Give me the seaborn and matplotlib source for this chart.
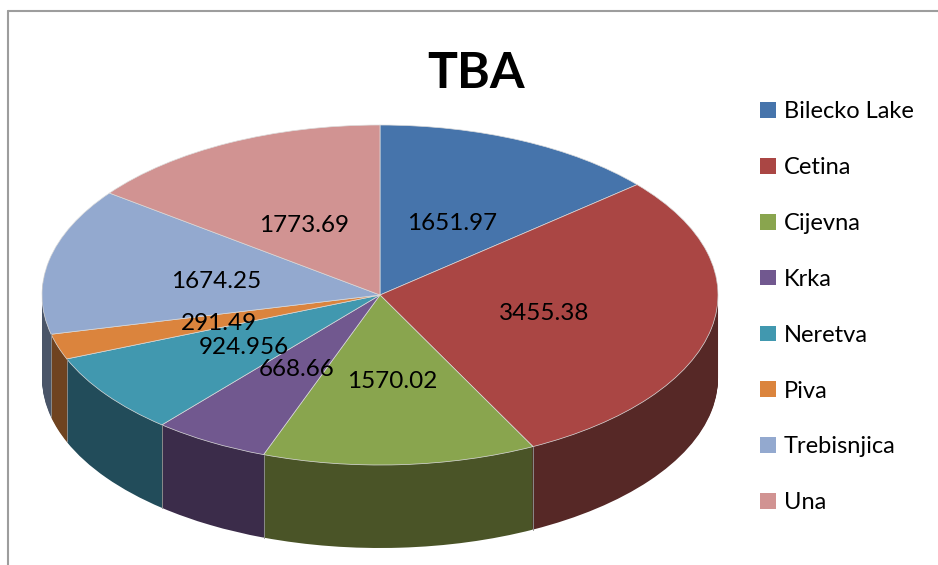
# TBA pie chart, tilted look with a side wall

import numpy as np
import seaborn as sns
import matplotlib.pyplot as plt
from matplotlib.patches import Patch

rivers = ["Bilecko Lake", "Cetina", "Cijevna", "Krka", "Neretva", "Piva", "Trebisnjica", "Una"]
tba = [1651.97, 3455.38, 1570.02, 668.66, 924.956, 291.49, 1674.25, 1773.69]
value_labels = ["1651.97", "3455.38", "1570.02", "668.66", "924.956", "291.49", "1674.25", "1773.69"]
top_colors = ["#4674AB", "#AA4644", "#89A54E", "#71588F", "#4198AF", "#DB843D", "#93A9CF", "#D19392"]
wall_colors = ["#2A4566", "#562826", "#4A5427", "#3B2C4A", "#224C5A", "#6F4320", "#4A5568", "#6A4A4A"]

# label centres in figure pixels
label_px = [(452, 223), (544, 314), (392, 382), (297, 370), (244, 348), (219, 324), (216, 281), (304, 225)]

W, H = 938, 565
DEPTH = 83 / 170  # wall height in pie radius units

sns.set_theme(style="white")
plt.rcParams["font.family"] = ["Lato", "DejaVu Sans"]

fig = plt.figure(figsize=(W / 100, H / 100), dpi=100)
ax = fig.add_axes([42 / W, (H - 548) / H, 676 / W, 423 / H])

# side wall: stack of dark pies going up to the top face
for off in np.linspace(DEPTH, 0.005, 84):
    ax.pie(tba, colors=wall_colors, startangle=90, counterclock=False,
           center=(0, -off), radius=1, frame=True,
           wedgeprops={"linewidth": 0.6, "edgecolor": "none"})

# thin separators on the front of the wall
angles = np.radians(90 - 360 * np.cumsum(tba) / np.sum(tba))
for a in angles:
    if np.sin(a) < 0:
        ax.plot([np.cos(a)] * 2, [np.sin(a), np.sin(a) - DEPTH], color="#8a8a8a", lw=0.7)

# top face
ax.pie(tba, colors=top_colors, startangle=90, counterclock=False, radius=1, frame=True,
       wedgeprops={"linewidth": 0.5, "edgecolor": "#dddddd"})

ax.set_aspect("auto")
ax.set_xlim(-1, 1)
ax.set_ylim(-1 - DEPTH, 1)
ax.axis("off")
for p in ax.patches:
    p.set_clip_on(False)

for lab, (x, y) in zip(value_labels, label_px):
    fig.text(x / W, 1 - y / H, lab, ha="center", va="center", fontsize=17.5, color="black")

fig.text(476 / W, 1 - 74 / H, "TBA", ha="center", va="center", fontsize=36, fontweight="bold", color="black")

handles = [Patch(facecolor=c, edgecolor="none") for c in top_colors]
fig.legend(handles, rivers, loc="upper left", bbox_to_anchor=(751 / W, 1 - 92 / H), frameon=False,
           fontsize=17, labelcolor="black", handlelength=0.64, handleheight=0.64, handletextpad=0.34,
           labelspacing=1.475, borderpad=0.4, borderaxespad=0)

# chart frame, runs off the right and bottom of the picture
fig.add_artist(plt.Line2D([7.5 / W, 7.5 / W], [0, 1 - 11 / H], color="#9d9d9d", lw=1.5))
fig.add_artist(plt.Line2D([7.5 / W, 1], [1 - 11 / H, 1 - 11 / H], color="#9d9d9d", lw=1.5))

fig.savefig("out.png", dpi=100, facecolor="white")
